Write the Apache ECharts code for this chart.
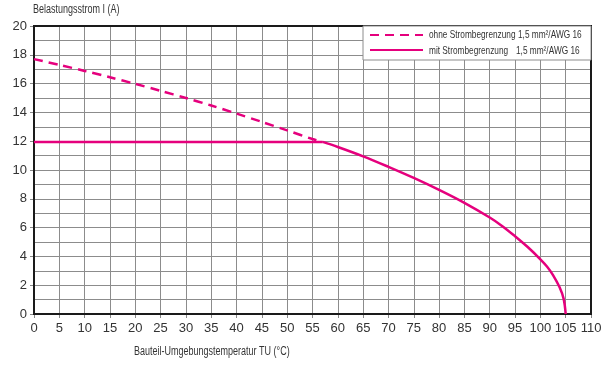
<!DOCTYPE html>
<html>
<head>
<meta charset="utf-8">
<script src="https://cdn.jsdelivr.net/npm/echarts@6/dist/echarts.min.js"></script>
<style>html,body{margin:0;padding:0;background:#fff}#c{width:608px;height:365px}</style>
</head>
<body>
<div id="c"></div>
<script>
// Data
const ohneT = [0, 5, 10, 15, 20, 25, 30, 35, 40, 45, 50, 55, 57];
const ohneI = [17.7, 17.3, 16.88, 16.44, 15.98, 15.5, 15.0, 14.48, 13.92, 13.34, 12.75, 12.15, 11.95];
const mitFlatT = [0, 57];
const mitFlatI = [11.95, 11.95];
const mitCurveT = [57, 60, 65, 70, 75, 80, 85, 90, 92.5, 95, 97.5, 100, 101.3, 102.5, 103.8, 104.6, 105];
const mitCurveI = [11.95, 11.6, 10.95, 10.22, 9.45, 8.62, 7.72, 6.7, 6.1, 5.4, 4.65, 3.8, 3.3, 2.7, 1.85, 1.05, 0];
const seriesNames = ['ohne Strombegrenzung', 'mit Strombegrenzung'];
const legendSuffix = '1,5 mm²/AWG 16';
const xTitle = 'Bauteil-Umgebungstemperatur TU (°C)';
const yTitle = 'Belastungsstrom I (A)';

const FONT = "'Liberation Sans', Arial, sans-serif";
const MAG = '#e5007d';
const TXT = '#333';
const SX = 0.72; // horizontal condensing of the label texts
const pair = (xs, ys) => xs.map((x, i) => [x, ys[i]]);

function ctext(txt, x, y, size, align) {
  return {
    type: 'text', x: x, y: y, scaleX: SX, z: 20,
    style: {text: txt, x: 0, y: 0, fill: TXT, font: size + 'px ' + FONT,
            textAlign: align || 'left', textVerticalAlign: 'middle'}
  };
}

const chart = echarts.init(document.getElementById('c'), null, {renderer: 'canvas'});
chart.setOption({
  animation: false,
  backgroundColor: '#fff',
  textStyle: {fontFamily: FONT},
  grid: {left: 34, right: 17, top: 26, bottom: 51, show: true, borderColor: '#1a1a1a', borderWidth: 2, backgroundColor: 'transparent', z: 3},
  xAxis: {
    type: 'value', min: 0, max: 110, interval: 5,
    axisLine: {show: true, lineStyle: {color: '#1a1a1a', width: 2}},
    axisTick: {show: true, length: 4, lineStyle: {color: '#888'}},
    axisLabel: {fontFamily: FONT, fontSize: 13, color: TXT, margin: 8},
    splitLine: {show: true, lineStyle: {color: '#8c8c8c', width: 1}}
  },
  yAxis: {
    type: 'value', min: 0, max: 20, interval: 2,
    axisLine: {show: true, lineStyle: {color: '#1a1a1a', width: 2}},
    axisTick: {show: true, length: 4, lineStyle: {color: '#888'}},
    axisLabel: {fontFamily: FONT, fontSize: 13, color: TXT, margin: 7},
    minorTick: {show: false, splitNumber: 2},
    splitLine: {show: true, lineStyle: {color: '#8c8c8c', width: 1}},
    minorSplitLine: {show: true, lineStyle: {color: '#8c8c8c', width: 1}}
  },
  graphic: [
    {type: 'rect', z: 5, shape: {x: 363, y: 26, width: 228, height: 34},
     style: {fill: '#fff', stroke: '#8c8c8c', lineWidth: 1}},
    ctext(seriesNames[0], 429, 35, 11.5),
    ctext(legendSuffix, 518, 35, 11.5),
    ctext(seriesNames[1], 429, 51, 11.5),
    ctext(legendSuffix, 516, 51, 11.5),
    ctext(yTitle, 33, 10, 12.5),
    ctext(xTitle, 134, 352, 12.5)
  ],
  legend: {
    orient: 'vertical', left: 364, top: 25, z: 10,
    itemWidth: 53, itemHeight: 10, itemGap: 6,
    data: seriesNames,
    formatter: () => '',
    itemStyle: {opacity: 0},
    textStyle: {fontSize: 1}
  },
  series: [
    {
      name: seriesNames[0], type: 'line', data: pair(ohneT, ohneI),
      showSymbol: false, symbol: 'none', smooth: 0.3, z: 4,
      lineStyle: {color: MAG, width: 2.5, type: [9, 6]},
      itemStyle: {color: MAG}
    },
    {
      name: seriesNames[1], type: 'line', data: pair(mitFlatT, mitFlatI),
      showSymbol: false, symbol: 'none', z: 4,
      lineStyle: {color: MAG, width: 2.5},
      itemStyle: {color: MAG}
    },
    {
      name: seriesNames[1], type: 'line', data: pair(mitCurveT, mitCurveI),
      showSymbol: false, symbol: 'none', smooth: 0.35, z: 4,
      lineStyle: {color: MAG, width: 2.5},
      itemStyle: {color: MAG}
    }
  ]
});
</script>
</body>
</html>
